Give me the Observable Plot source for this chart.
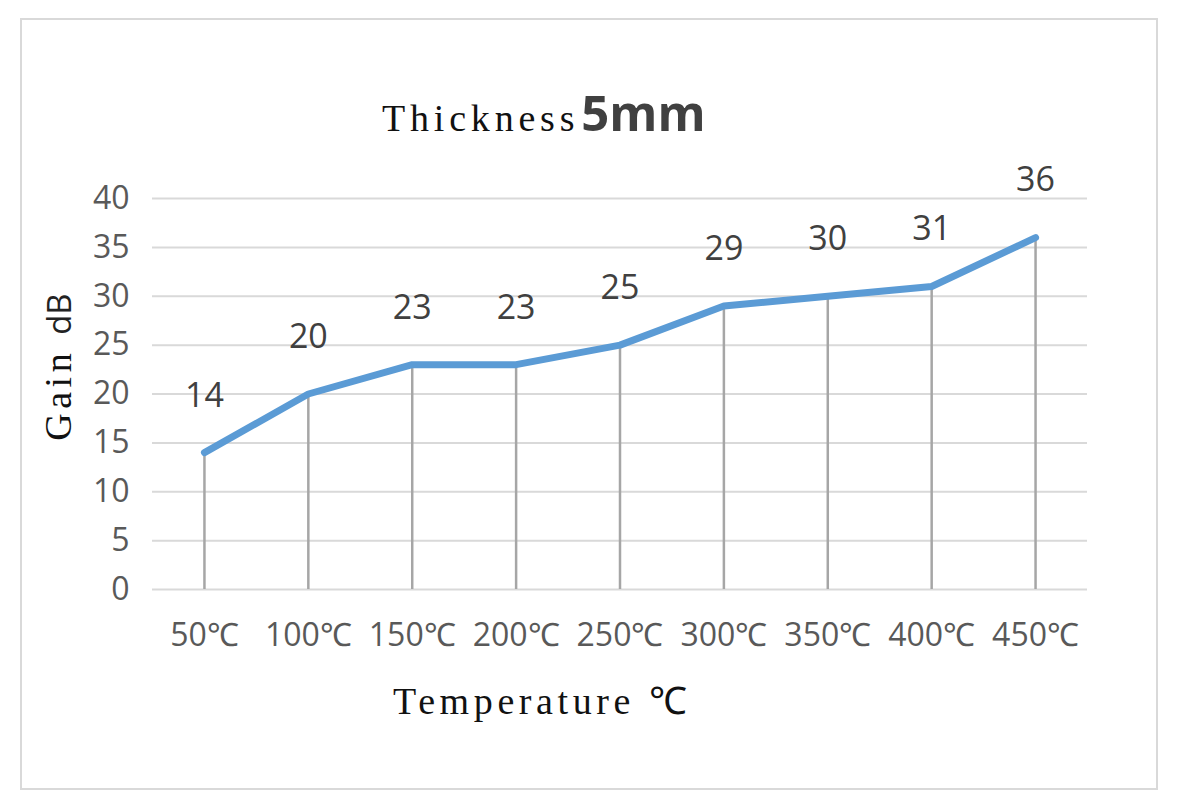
<!DOCTYPE html>
<html><head><meta charset="utf-8">
<script src="https://cdn.jsdelivr.net/npm/d3@7"></script>
<script src="https://cdn.jsdelivr.net/npm/@observablehq/plot@0.6"></script>
<style>
html,body{margin:0;padding:0;background:#fff;}
#wrap{position:relative;width:1179px;height:811px;overflow:hidden;}
#border{position:absolute;left:20px;top:18px;width:1134px;height:768px;border:2px solid #d9d9d9;}
#chart{position:absolute;left:0;top:0;}
.mono{font-family:"Liberation Serif",serif;color:#111;}
#title{position:absolute;left:382px;top:79px;white-space:nowrap;}
#title .a{font-size:38px;letter-spacing:4.8px;}
#title .b{font-family:"Open Sans",sans-serif;font-weight:700;font-size:49px;color:#404040;margin-left:2px;}
#xlabel{position:absolute;left:393px;top:673px;font-size:38px;letter-spacing:4.6px;white-space:nowrap;}
#ylabel{position:absolute;left:58px;top:367px;transform:translate(-50%,-50%) rotate(-90deg);font-size:38px;letter-spacing:4.5px;white-space:nowrap;}
#ylabel .s{font-family:"Open Sans",sans-serif;color:#222;font-size:33px;letter-spacing:0;}
</style></head>
<body>
<div id="wrap">
<div id="border"></div>
<div id="chart"></div>
<div id="title"><span class="mono a">Thickness</span><span class="b">5mm</span></div>
<div id="xlabel" class="mono">Temperature ℃</div>
<div id="ylabel" class="mono">Gain <span class="s">dB</span></div>
</div>
<script>
const temps = ["50℃","100℃","150℃","200℃","250℃","300℃","350℃","400℃","450℃"];
const gain = [14,20,23,23,25,29,30,31,36];
const yTicks = [0,5,10,15,20,25,30,35,40];

const data = temps.map((t,i)=>({t, g: gain[i]}));

const chart = Plot.plot({
  width: 1179,
  height: 811,
  marginLeft: 152,
  marginRight: 92,
  marginTop: 198,
  marginBottom: 222,
  style: {background: "transparent", fontFamily: "'Open Sans', sans-serif", overflow: "visible"},
  x: {type: "point", domain: temps, padding: 0.5, round: false, label: null},
  y: {domain: [0,40], ticks: yTicks, label: null},
  marks: [
    Plot.ruleY(yTicks, {stroke: "#d9d9d9", strokeWidth: 2}),
    Plot.axisY({ticks: yTicks, tickSize: 0, tickPadding: 23, fontSize: 32, color: "#595959", label: null}),
    Plot.axisX({tickSize: 0, tickPadding: 34, fontSize: 32, color: "#595959", label: null}),
    Plot.ruleX(data, {x: "t", y1: 0, y2: "g", stroke: "#a6a6a6", strokeWidth: 2.5}),
    Plot.line(data, {x: "t", y: "g", stroke: "#5b9bd5", strokeWidth: 7, strokeLinecap: "round", strokeLinejoin: "round"}),
    Plot.text(data, {x: "t", y: "g", text: d => String(d.g), dy: -57, fontSize: 34, fill: "#404040"})
  ]
});
document.getElementById("chart").appendChild(chart);
</script>
</body></html>
